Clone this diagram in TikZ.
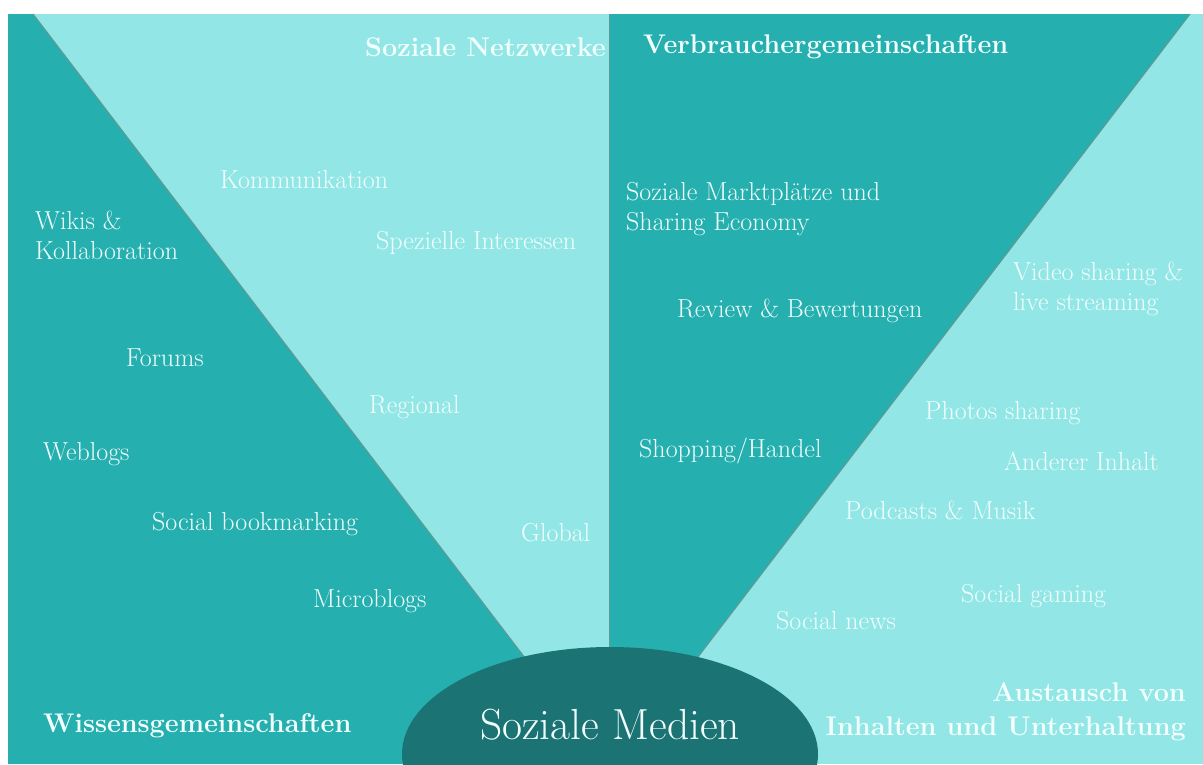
\documentclass[tikz,border=0pt]{standalone}
\usepackage{fontspec}
\definecolor{darkteal}{RGB}{38,175,175}
\definecolor{lightteal}{RGB}{146,231,230}
\definecolor{deepteal}{RGB}{27,115,115}
\definecolor{edgecol}{RGB}{95,155,150}
\definecolor{txt}{RGB}{242,255,255}
\begin{document}
\begin{tikzpicture}[x=1pt,y=-1pt,
  lbl/.style={text=txt,font=\fontsize{26}{30}\selectfont,inner sep=0pt,anchor=west,align=left},
  head/.style={text=txt,font=\fontsize{27}{34}\selectfont\bfseries,inner sep=0pt},
  edgeline/.style={draw=edgecol,line width=1.2pt}]
\useasboundingbox (0,0) rectangle (1203,764);
\fill[white] (0,0) rectangle (1203,764);
\fill[lightteal] (8,14) rectangle (1203,764);
\coordinate (l0) at (33,14);
\coordinate (l1) at (606,764);
\coordinate (m0) at (609.5,14);
\coordinate (m1) at (609.5,764);
\coordinate (r0) at (1190,14);
\coordinate (r1) at (616,764);
\fill[darkteal] (8,14) -- (l0) -- (l1) -- (8,764) -- cycle;
\fill[darkteal] (m0) -- (r0) -- (r1) -- (m1) -- cycle;
\draw[edgeline] (l0) -- (l1);
\draw[edgeline] (m0) -- (m1);
\draw[edgeline] (r0) -- (r1);
\fill[deepteal] (610,754) ellipse [x radius=208pt, y radius=107pt];
\node[text=txt,font=\fontsize{43.5}{50}\selectfont,inner sep=0pt] (center) at (610,725) {Soziale Medien};
% headings
\node[head,anchor=west] (h1) at (365,47) {Soziale Netzwerke};
\node[head,anchor=west] (h2) at (643,47) {Verbrauchergemeinschaften};
\node[head,anchor=west] (h3) at (43,726) {Wissensgemeinschaften};
\node[head,anchor=east,align=right] (h4) at (1186,712) {Austausch von\\Inhalten und Unterhaltung};
% labels
\node[lbl] (a1) at (220,180) {Kommunikation};
\node[lbl] (a2) at (35,235) {Wikis \&\\Kollaboration};
\node[lbl] (a3) at (376,243) {Spezielle Interessen};
\node[lbl] (a4) at (626,209) {Soziale Marktplätze und\\Sharing Economy};
\node[lbl] (a5) at (1013,289) {Video sharing \&\\live streaming};
\node[lbl] (a6) at (677,311) {Review \& Bewertungen};
\node[lbl] (a7) at (126,358) {Forums};
\node[lbl] (a8) at (369,407) {Regional};
\node[lbl] (a9) at (925,413) {Photos sharing};
\node[lbl] (a10) at (43,454) {Weblogs};
\node[lbl] (a11) at (639,451) {Shopping/Handel};
\node[lbl] (a12) at (1004,461) {Anderer Inhalt};
\node[lbl] (a13) at (845,510) {Podcasts \& Musik};
\node[lbl] (a14) at (152,524) {Social bookmarking};
\node[lbl] (a15) at (521,533) {Global};
\node[lbl] (a16) at (313,601) {Microblogs};
\node[lbl] (a17) at (961,596) {Social gaming};
\node[lbl] (a18) at (776,621) {Social news};
\end{tikzpicture}
\end{document}
